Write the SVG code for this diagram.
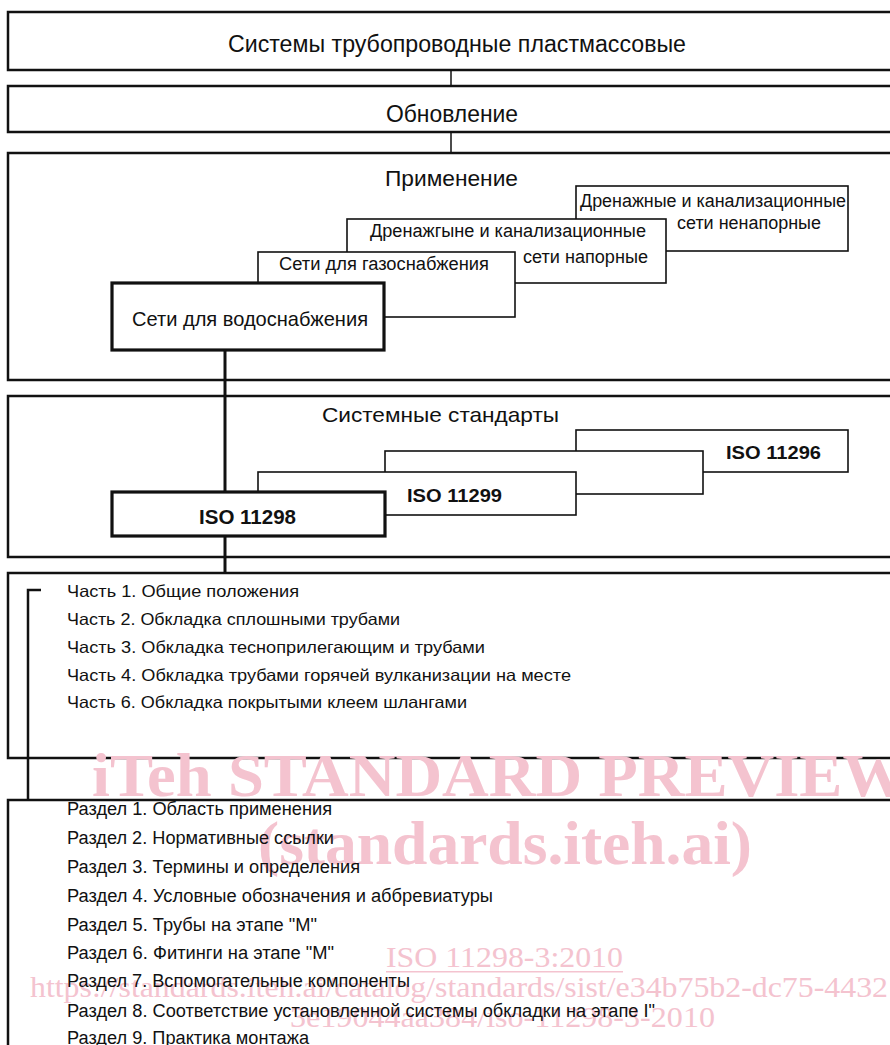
<svg xmlns="http://www.w3.org/2000/svg" width="890" height="1045" viewBox="0 0 890 1045">
<style>
.frame{fill:#fff;stroke:#111;stroke-width:2.5}
.sub{fill:#fff;stroke:#111;stroke-width:1.6}
.key{fill:#fff;stroke:#111;stroke-width:3.2}
.t{font-family:"Liberation Sans",Arial,sans-serif;fill:#111}
.b{font-weight:bold}
.wm{font-family:"Liberation Serif","Times New Roman",serif;fill:#f4c3cf}
.c{fill:none;stroke:#111}
</style>
<rect width="890" height="1045" fill="#fff"/>

<g id="frame-systems"><rect class="frame" x="8" y="12" width="900" height="58"/>
<text class="t" x="228" y="52" font-size="23" textLength="458" lengthAdjust="spacingAndGlyphs">Системы трубопроводные пластмассовые</text></g>

<g id="frame-renovation"><rect class="frame" x="8" y="86" width="900" height="46"/>
<text class="t" x="386" y="122" font-size="23" textLength="132" lengthAdjust="spacingAndGlyphs">Обновление</text></g>

<g id="frame-application"><rect class="frame" x="8" y="153" width="900" height="227"/>
<text class="t" x="385" y="186" font-size="22" textLength="133" lengthAdjust="spacingAndGlyphs">Применение</text></g>

<g id="app-nonpressure"><rect class="sub" x="576" y="186" width="272" height="65"/>
<text class="t" x="580" y="207" font-size="18" textLength="266" lengthAdjust="spacingAndGlyphs">Дренажные и канализационные</text>
<text class="t" x="677" y="229" font-size="18" textLength="144" lengthAdjust="spacingAndGlyphs">сети ненапорные</text></g>

<g id="app-pressure"><rect class="sub" x="347" y="219" width="319" height="64"/>
<text class="t" x="370" y="237" font-size="18" textLength="276" lengthAdjust="spacingAndGlyphs">Дренажгыне и канализационные</text>
<text class="t" x="523" y="263" font-size="18" textLength="125" lengthAdjust="spacingAndGlyphs">сети напорные</text></g>

<g id="app-gas"><rect class="sub" x="258" y="252" width="257" height="65"/>
<text class="t" x="279" y="270" font-size="18" textLength="210" lengthAdjust="spacingAndGlyphs">Сети для газоснабжения</text></g>

<g id="app-water"><rect class="key" x="112" y="283" width="272" height="67"/>
<text class="t" x="132" y="326" font-size="21" textLength="236" lengthAdjust="spacingAndGlyphs">Сети для водоснабжения</text></g>

<g id="frame-standards"><rect class="frame" x="8" y="396" width="900" height="161"/>
<text class="t" x="322" y="422" font-size="21" textLength="237" lengthAdjust="spacingAndGlyphs">Системные стандарты</text></g>

<g id="iso-11296"><rect class="sub" x="576" y="430" width="272" height="42"/>
<text class="t b" x="726" y="459" font-size="19" textLength="95" lengthAdjust="spacingAndGlyphs">ISO 11296</text></g>

<g id="iso-unlabeled"><rect class="sub" x="385" y="451" width="318" height="43"/></g>

<g id="iso-11299"><rect class="sub" x="258" y="472" width="318" height="43"/>
<text class="t b" x="407" y="502" font-size="19" textLength="95" lengthAdjust="spacingAndGlyphs">ISO 11299</text></g>

<g id="iso-11298"><rect class="key" x="112" y="492" width="273" height="44"/>
<text class="t b" x="199" y="524" font-size="20" textLength="97" lengthAdjust="spacingAndGlyphs">ISO 11298</text></g>

<g id="frame-parts"><rect class="frame" x="8" y="573" width="900" height="185"/>
<text class="t" x="67" y="597" font-size="16.5" textLength="232" lengthAdjust="spacingAndGlyphs">Часть 1. Общие положения</text>
<text class="t" x="67" y="625" font-size="16.5" textLength="333" lengthAdjust="spacingAndGlyphs">Часть 2. Обкладка сплошными трубами</text>
<text class="t" x="67" y="653" font-size="16.5" textLength="418" lengthAdjust="spacingAndGlyphs">Часть 3. Обкладка тесноприлегающим и трубами</text>
<text class="t" x="67" y="681" font-size="16.5" textLength="504" lengthAdjust="spacingAndGlyphs">Часть 4. Обкладка трубами горячей вулканизации на месте</text>
<text class="t" x="67" y="708" font-size="16.5" textLength="400" lengthAdjust="spacingAndGlyphs">Часть 6. Обкладка покрытыми клеем шлангами</text></g>

<g id="frame-sections"><rect class="frame" x="8" y="800" width="900" height="300"/></g>

<g id="watermark">
<text class="wm" x="92" y="796" font-size="62" font-weight="bold" textLength="815" lengthAdjust="spacingAndGlyphs">iTeh STANDARD PREVIEW</text>
<text class="wm" x="258" y="864" font-size="62" font-weight="bold" textLength="494" lengthAdjust="spacingAndGlyphs">(standards.iteh.ai)</text>
<text class="wm" x="386" y="967" font-size="30" textLength="237" lengthAdjust="spacingAndGlyphs">ISO 11298-3:2010</text>
<rect x="386" y="971" width="237" height="1.5" fill="#f4c3cf"/>
<text class="wm" x="30" y="997" font-size="30" textLength="858" lengthAdjust="spacingAndGlyphs">https://standards.iteh.ai/catalog/standards/sist/e34b75b2-dc75-4432</text>
<text class="wm" x="290" y="1027" font-size="30" textLength="425" lengthAdjust="spacingAndGlyphs">3e19044aa384/iso-11298-3-2010</text>
</g>

<g id="sections-text">
<text class="t" x="67" y="815" font-size="18" textLength="265" lengthAdjust="spacingAndGlyphs">Раздел 1. Область применения</text>
<text class="t" x="67" y="844" font-size="18" textLength="267" lengthAdjust="spacingAndGlyphs">Раздел 2. Нормативные ссылки</text>
<text class="t" x="67" y="873" font-size="18" textLength="293" lengthAdjust="spacingAndGlyphs">Раздел 3. Термины и определения</text>
<text class="t" x="67" y="902" font-size="18" textLength="426" lengthAdjust="spacingAndGlyphs">Раздел 4. Условные обозначения и аббревиатуры</text>
<text class="t" x="67" y="931" font-size="18" textLength="250" lengthAdjust="spacingAndGlyphs">Раздел 5. Трубы на этапе "М"</text>
<text class="t" x="67" y="959" font-size="18" textLength="267" lengthAdjust="spacingAndGlyphs">Раздел 6. Фитинги на этапе "М"</text>
<text class="t" x="67" y="987" font-size="18" textLength="343" lengthAdjust="spacingAndGlyphs">Раздел 7. Вспомогательные компоненты</text>
<text class="t" x="67" y="1017" font-size="18" textLength="588" lengthAdjust="spacingAndGlyphs">Раздел 8. Соответствие установленной системы обкладки на этапе I"</text>
<text class="t" x="67" y="1044" font-size="18" textLength="242" lengthAdjust="spacingAndGlyphs">Раздел 9. Практика монтажа</text>
</g>

<g id="connectors">
<line class="c" x1="451" y1="70" x2="451" y2="86" stroke-width="1.5"/>
<line class="c" x1="451" y1="132" x2="451" y2="153" stroke-width="1.5"/>
<line class="c" x1="225" y1="350" x2="225" y2="492" stroke-width="3"/>
<line class="c" x1="225" y1="536" x2="225" y2="573" stroke-width="3"/>
<path class="c" d="M41,590 H28 V800" stroke-width="2.5"/>
</g>
</svg>
